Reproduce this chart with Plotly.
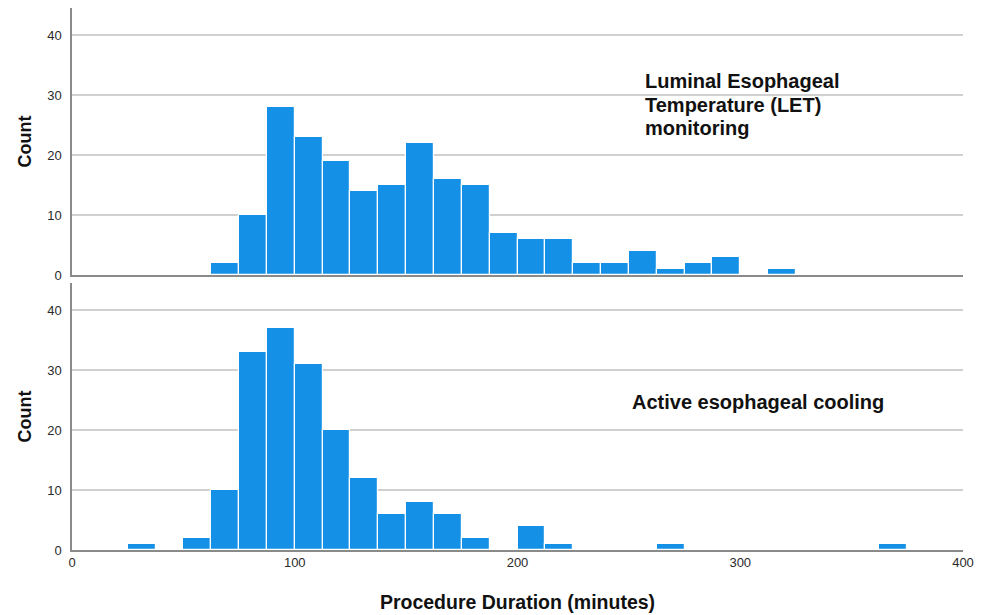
import plotly.graph_objects as go

# Bin starts (minutes), bin width 12.5
bin_width = 12.5
bin_starts = [25, 37.5, 50, 62.5, 75, 87.5, 100, 112.5, 125, 137.5, 150, 162.5, 175,
              187.5, 200, 212.5, 225, 237.5, 250, 262.5, 275, 287.5, 300, 312.5,
              325, 337.5, 350, 362.5]
let_counts = [0, 0, 0, 2, 10, 28, 23, 19, 14, 15, 22, 16, 15,
              7, 6, 6, 2, 2, 4, 1, 2, 3, 0, 1,
              0, 0, 0, 0]
cooling_counts = [1, 0, 2, 10, 33, 37, 31, 20, 12, 6, 8, 6, 2,
                  0, 4, 1, 0, 0, 0, 1, 0, 0, 0, 0,
                  0, 0, 0, 1]

x_ticks = [0, 100, 200, 300, 400]
y_ticks = [0, 10, 20, 30, 40]

label_top = ["Luminal Esophageal", "Temperature (LET)", "monitoring"]
label_bottom = "Active esophageal cooling"

bar_color = "#1490e6"
centers = [s + bin_width / 2 for s in bin_starts]

fig = go.Figure()
fig.add_trace(go.Bar(x=centers, y=let_counts, width=[bin_width] * len(centers),
                     marker=dict(color=bar_color, line=dict(color="white", width=1.2)),
                     xaxis="x", yaxis="y", showlegend=False))
fig.add_trace(go.Bar(x=centers, y=cooling_counts, width=[bin_width] * len(centers),
                     marker=dict(color=bar_color, line=dict(color="white", width=1.2)),
                     xaxis="x2", yaxis="y2", showlegend=False))

tickfont = dict(family="Liberation Sans, Arial, sans-serif", size=13, color="#2a2a2a")
titlefont = dict(family="Liberation Sans, Arial, sans-serif", size=18, color="#111111", weight="bold")

yaxis_common = dict(range=[0, 44.5], tickvals=y_ticks, showgrid=True, gridcolor="#d0d0d0",
                    gridwidth=1.5, showline=True, linecolor="#8a8a8a", linewidth=1.5,
                    zeroline=False, ticks="", tickfont=tickfont, ticklabelstandoff=6,
                    automargin=False,
                    title=dict(text="Count", font=titlefont, standoff=11))
xaxis_common = dict(range=[0, 400], tickvals=x_ticks, showgrid=False, showline=True,
                    linecolor="#8a8a8a", linewidth=1.5, zeroline=False, ticks="",
                    tickfont=tickfont, automargin=False)

fig.update_layout(
    width=987, height=615,
    margin=dict(l=72, r=24, t=8, b=65),
    plot_bgcolor="white", paper_bgcolor="white",
    bargap=0,
    xaxis=dict(**xaxis_common, anchor="y", showticklabels=False),
    yaxis=dict(**yaxis_common, domain=[0.5074, 1.0], anchor="x"),
    xaxis2=dict(**xaxis_common, anchor="y2", matches="x",
                title=dict(text="Procedure Duration (minutes)",
                           font=dict(family="Liberation Sans, Arial, sans-serif", size=19.5,
                                     color="#111111", weight="bold"), standoff=26)),
    yaxis2=dict(**yaxis_common, domain=[0.0, 0.4926], anchor="x2"),
)

annfont = dict(family="Liberation Sans, Arial, sans-serif", size=20, color="#111111", weight="bold")
for i, line in enumerate(label_top):
    fig.add_annotation(x=256.3, y=32.3 - i * 3.9, xref="x", yref="y", text=line,
                       showarrow=False, xanchor="left", yanchor="middle", font=annfont)
fig.add_annotation(x=250.5, y=24.6, xref="x2", yref="y2", text=label_bottom,
                   showarrow=False, xanchor="left", yanchor="middle", font=annfont)

fig.write_html("out.html", config={"displayModeBar": False},
               post_script="document.body.style.margin='0';")
